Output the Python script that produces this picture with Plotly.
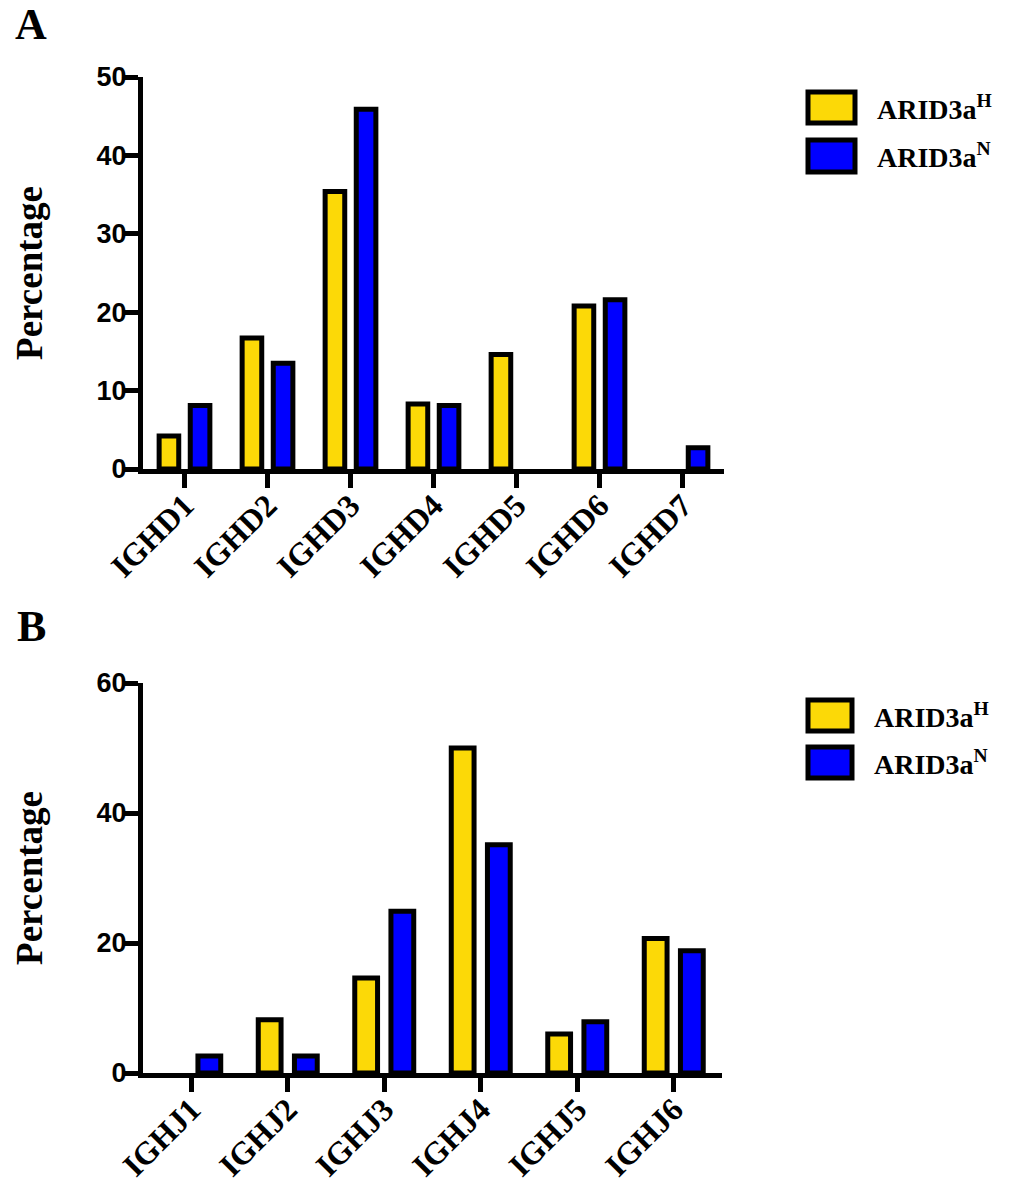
import plotly.graph_objects as go

# ---- data ----
d_genes = ["IGHD1", "IGHD2", "IGHD3", "IGHD4", "IGHD5", "IGHD6", "IGHD7"]
d_high = [4.2, 16.7, 35.4, 8.3, 14.6, 20.8, None]
d_normal = [8.1, 13.5, 45.9, 8.1, None, 21.6, 2.7]

j_genes = ["IGHJ1", "IGHJ2", "IGHJ3", "IGHJ4", "IGHJ5", "IGHJ6"]
j_high = [None, 8.2, 14.6, 50.0, 6.0, 20.7]
j_normal = [2.6, 2.6, 24.9, 35.1, 7.9, 18.8]

series_names = ["ARID3a<sup>H</sup>", "ARID3a<sup>N</sup>"]
colors = ["#FCD907", "#0000FF"]

W, H = 1016, 1182


def px_x(x):
    return x / W


def px_y(y):
    return 1 - y / H


fig = go.Figure()
for vals, name, col in zip([d_high, d_normal], series_names, colors):
    fig.add_trace(go.Bar(x=d_genes, y=vals, name=name, xaxis="x", yaxis="y",
                         marker=dict(color=col, line=dict(color="black", width=5)),
                         showlegend=False))
for vals, name, col in zip([j_high, j_normal], series_names, colors):
    fig.add_trace(go.Bar(x=j_genes, y=vals, name=name, xaxis="x2", yaxis="y2",
                         marker=dict(color=col, line=dict(color="black", width=5)),
                         showlegend=False))

serif = "Liberation Serif"
sans = "Liberation Sans"

xcommon = dict(showline=True, linewidth=5, linecolor="black", ticks="outside",
               ticklen=14, tickwidth=5, tickcolor="black", showgrid=False,
               zeroline=False, tickangle=-45, automargin=False, ticklabelstandoff=-14,
               tickfont=dict(family=serif, size=32, color="black", weight="bold"))
ycommon = dict(showline=True, linewidth=5, linecolor="black", ticks="outside",
               ticklen=14, tickwidth=5, tickcolor="black", showgrid=False,
               zeroline=False, automargin=False, ticklabelstandoff=-8,
               tickfont=dict(family=sans, size=27, color="black", weight="bold"),
               title=dict(text="Percentage", standoff=44,
                          font=dict(family=serif, size=37, color="black", weight="bold")))

fig.update_layout(
    width=W, height=H,
    margin=dict(l=0, r=0, t=0, b=0, autoexpand=False),
    paper_bgcolor="white", plot_bgcolor="white",
    barmode="group", bargap=0.25, bargroupgap=0.37,
    xaxis=dict(domain=[px_x(143), px_x(724)], anchor="y", range=[-0.5, 6.5], **xcommon),
    yaxis=dict(domain=[px_y(469), px_y(77)], anchor="x", range=[0, 50], dtick=10, **ycommon),
    xaxis2=dict(domain=[px_x(143), px_x(722)], anchor="y2", range=[-0.5, 5.5], **xcommon),
    yaxis2=dict(domain=[px_y(1073), px_y(683)], anchor="x2", range=[0, 60], dtick=20, **ycommon),
)

shapes = []
annotations = []
# panel letters
for letter, (lx, ly) in zip(["A", "B"], [(13, -2), (15, 600)]):
    annotations.append(dict(text=letter, x=px_x(lx), y=px_y(ly), xref="paper", yref="paper",
                            xanchor="left", yanchor="top", showarrow=False,
                            font=dict(family=serif, size=44, color="black", weight="bold")))

# legends (drawn manually to match large swatches)
legend_rows = [
    [(808, 92, 855, 123), (808, 140, 855, 172)],
    [(808, 700, 852, 731), (808, 747, 852, 778)],
]
for rows in legend_rows:
    for (x0, y0, x1, y1), name, col in zip(rows, series_names, colors):
        shapes.append(dict(type="rect", xref="paper", yref="paper",
                           x0=px_x(x0), x1=px_x(x1), y0=px_y(y1), y1=px_y(y0),
                           fillcolor=col, line=dict(color="black", width=5)))
        annotations.append(dict(text=name, x=px_x(x1 + 20), y=px_y((y0 + y1) / 2),
                                xref="paper", yref="paper", xanchor="left", yanchor="middle",
                                showarrow=False,
                                font=dict(family=serif, size=28, color="black", weight="bold")))

fig.update_layout(shapes=shapes, annotations=annotations)
fig.write_html("out.html")
